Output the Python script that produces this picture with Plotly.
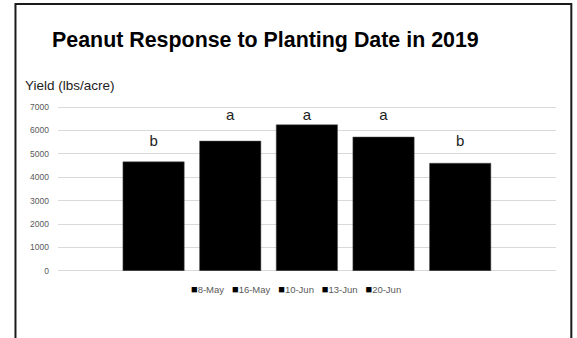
import plotly.graph_objects as go

# Data
dates = ["8-May", "16-May", "10-Jun", "13-Jun", "20-Jun"]
yields = [4660, 5545, 6245, 5720, 4600]
letters = ["b", "a", "a", "a", "b"]
letter_y = [5510, 6610, 6610, 6610, 5510]
y_ticks = [0, 1000, 2000, 3000, 4000, 5000, 6000, 7000]

W, H = 577, 338
L, R, T, B = 58, 21.3, 106.3, 67.0
pw = W - L - R
ph = H - T - B

def px(x):
    return (x - L) / pw

def py(y):
    return (H - B - y) / ph

fig = go.Figure()
for d, v in zip(dates, yields):
    fig.add_trace(go.Bar(x=[d], y=[v], name=d, width=0.8,
                         marker=dict(color="black", line=dict(color="#555555", width=0.5)),
                         showlegend=False, hoverinfo="x+y"))

fig.add_trace(go.Scatter(x=dates, y=letter_y, text=letters, mode="text",
                         textposition="middle center",
                         textfont=dict(family="Liberation Sans, Arial", size=15, color="#222222"),
                         showlegend=False, hoverinfo="skip"))

legend_text = "&nbsp;&nbsp;&nbsp;".join(
    f'<span style="color:black;font-size:11px">■</span>{d}' for d in dates)

fig.update_layout(
    width=W, height=H,
    margin=dict(l=L, r=R, t=T, b=B, pad=0),
    paper_bgcolor="white", plot_bgcolor="white",
    barmode="overlay",
    xaxis=dict(type="category", categoryorder="array", categoryarray=dates,
               range=[-1.247, 5.25], showticklabels=False, showgrid=False,
               zeroline=False, showline=False, ticks=""),
    yaxis=dict(range=[-8, 7045], tickvals=y_ticks, showgrid=True,
               gridcolor="#d9d9d9", gridwidth=1, zeroline=True, zerolinecolor="#d9d9d9",
               zerolinewidth=1, showline=False,
               ticks="", ticklabelstandoff=8,
               tickfont=dict(family="Liberation Sans, Arial", size=8.5, color="#595959")),
    showlegend=False,
    annotations=[
        dict(text="<b>Peanut Response to Planting Date in 2019</b>", xref="paper", yref="paper",
             x=px(265), y=py(40), xanchor="center", yanchor="middle", showarrow=False,
             font=dict(family="Liberation Sans, Arial", size=21.4, color="black")),
        dict(text="Yield (lbs/acre)", xref="paper", yref="paper",
             x=px(23), y=py(86), xanchor="left", yanchor="middle", showarrow=False,
             font=dict(family="Liberation Sans, Arial", size=13.5, color="#222222")),
        dict(text=legend_text, xref="paper", yref="paper",
             x=px(295.5), y=py(289), xanchor="center", yanchor="middle", showarrow=False,
             font=dict(family="Liberation Sans, Arial", size=9.5, color="#595959")),
    ],
    shapes=[
        dict(type="rect", xref="paper", yref="paper",
             x0=px(15.5), x1=px(571), y0=py(360), y1=py(4.5),
             line=dict(color="#1a1a1a", width=2), fillcolor="rgba(0,0,0,0)", layer="above"),
    ],
)

fig.write_html("out.html")
